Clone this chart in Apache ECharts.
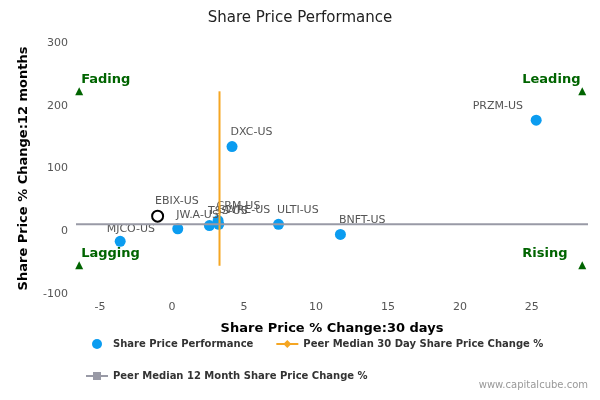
<!DOCTYPE html><html><head><meta charset="utf-8"><script src="https://cdn.jsdelivr.net/npm/echarts@6/dist/echarts.min.js"></script></head><body style="margin:0"><div id="c" style="width:600px;height:400px"></div><script>
const names=['PRZM-US','DXC-US','MJCO-US','ULTI-US','BNFT-US','JW.A-US','TSS-US','GWRE-US','CRM-US'];
const xs=[25.3,4.17,-3.6,7.4,11.7,0.4,2.6,3.25,3.2];
const ys=[177,135,-16,11,-5,4,9,11,17];
const selfName='EBIX-US',selfX=-1.0,selfY=24;
const medX=3.3,medY=11;
const quads=[['Fading',-6.45,223,'left'],['Leading',28.5,223,'right'],['Lagging',-6.45,-54,'left'],['Rising',28.5,-54,'right']];
const xTicks=[-5,0,5,10,15,20,25];
const F='DejaVu Sans';
const leftLabels={'PRZM-US':[-58,-14],'MJCO-US':[-8,-12]};
const c=echarts.init(document.getElementById('c'));
c.setOption({
title:{text:'Share Price Performance',left:'center',top:6,textStyle:{fontFamily:F,fontSize:15,color:'#222',fontWeight:'normal'}},
grid:{left:76,right:12,top:43,bottom:106},
xAxis:{type:'value',min:-6.67,max:28.9,name:'Share Price % Change:30 days',nameLocation:'middle',nameGap:28,nameTextStyle:{fontFamily:F,fontWeight:'bold',fontSize:13,color:'#000'},
 axisLine:{show:false},axisTick:{show:false},splitLine:{show:false},axisLabel:{customValues:xTicks,fontFamily:F,fontSize:11,color:'#555'}},
yAxis:{type:'value',min:-100,max:300,interval:100,name:'Share Price % Change:12 months',nameLocation:'middle',nameGap:46,nameTextStyle:{fontFamily:F,fontWeight:'bold',fontSize:13,color:'#000'},
 axisLine:{show:false},axisTick:{show:false},splitLine:{show:false},axisLabel:{fontFamily:F,fontSize:11,color:'#555'}},
legend:{orient:'horizontal',bottom:14,left:80,width:460,itemGap:22,itemWidth:22,itemHeight:10,textStyle:{fontFamily:F,fontWeight:'bold',fontSize:10,color:'#333'},
 data:[{name:'Share Price Performance',icon:'circle'},'Peer Median 30 Day Share Price Change %','Peer Median 12 Month Share Price Change %']},
graphic:[{type:'text',right:12,bottom:10,style:{text:'www.capitalcube.com',font:'10px '+F,fill:'#999'}}],
series:[
{name:'Share Price Performance',type:'scatter',symbolSize:11,itemStyle:{color:'#0b9cf0',opacity:1},
 data:names.map((n,i)=>({value:[xs[i],ys[i]],name:n,label:leftLabels[n]?{position:leftLabels[n]}:undefined})),
 label:{show:true,formatter:p=>p.name,position:[4,-14],fontFamily:F,fontSize:11,color:'#555'}},
{name:'self',type:'scatter',symbolSize:11,itemStyle:{color:'#fff',borderColor:'#000',borderWidth:2,opacity:1},
 data:[{value:[selfX,selfY],name:selfName}],label:{show:true,formatter:p=>p.name,position:[4,-14],fontFamily:F,fontSize:11,color:'#555'}},
{name:'Peer Median 30 Day Share Price Change %',type:'line',symbol:'diamond',symbolSize:9,showSymbol:false,itemStyle:{color:'#f5a623'},lineStyle:{color:'#f5a623',width:2},data:[[medX,-55],[medX,223]]},
{name:'Peer Median 12 Month Share Price Change %',type:'line',symbol:'rect',symbolSize:9,showSymbol:false,itemStyle:{color:'#999aa6'},lineStyle:{color:'#999aa6',width:2},data:[[-6.67,medY],[28.9,medY]]},
{name:'quad',type:'scatter',symbol:'triangle',symbolSize:8,itemStyle:{color:'#006400',opacity:1},
 data:quads.map(q=>({value:[q[1],q[2]],name:q[0],label:{position:q[3]==='left'?[6,-14]:[-56,-14]}})),
 label:{show:true,formatter:p=>p.name,fontFamily:F,fontSize:13,fontWeight:'bold',color:'#006400'}}
]});
</script></body></html>
